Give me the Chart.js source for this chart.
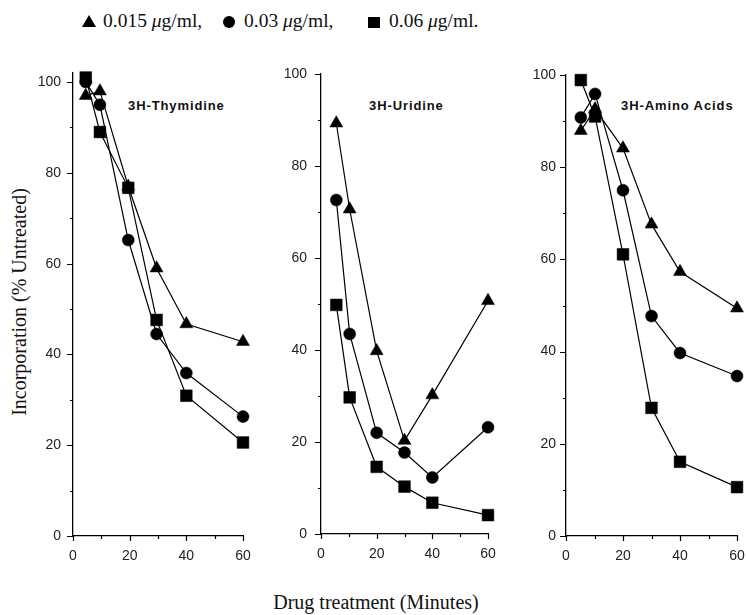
<!DOCTYPE html>
<html><head><meta charset="utf-8">
<script src="https://cdn.jsdelivr.net/npm/chart.js@4/dist/chart.umd.min.js"></script>
<style>
body{margin:0;background:#fff;width:747px;height:615px;position:relative;overflow:hidden;font-family:"Liberation Serif","Times New Roman",serif;color:#111;}
canvas{position:absolute;}
.t{position:absolute;white-space:nowrap;line-height:1;}
.lg{position:absolute;white-space:nowrap;line-height:1;font-size:19.5px;top:11px;}
.ttl{position:absolute;white-space:nowrap;font-family:"Liberation Sans",Arial,sans-serif;font-weight:bold;font-size:13px;letter-spacing:0.9px;color:#111;line-height:1;}
.tri{position:absolute;width:0;height:0;border-left:7px solid transparent;border-right:7px solid transparent;border-bottom:12px solid #000;}
.cir{position:absolute;width:12px;height:12px;border-radius:50%;background:#000;}
.sq{position:absolute;width:12px;height:11px;background:#000;}
</style></head><body>
<div id="legend">
<span class="tri" style="left:82px;top:15px;"></span>
<span class="lg" style="left:103px;">0.015 <i>μ</i>g/ml,</span>
<span class="cir" style="left:223px;top:16px;"></span>
<span class="lg" style="left:244px;">0.03 <i>μ</i>g/ml,</span>
<span class="sq" style="left:368px;top:17px;"></span>
<span class="lg" style="left:389px;">0.06 <i>μ</i>g/ml.</span>
</div>
<div class="t" style="left:19px;top:302px;font-size:20px;transform:translate(-50%,-50%) rotate(-90deg);">Incorporation (% Untreated)</div>
<div class="t" style="left:376px;top:592px;font-size:20px;transform:translateX(-50%);">Drug treatment (Minutes)</div>
<div class="ttl" style="left:128px;top:99px;">3H-Thymidine</div>
<div class="ttl" style="left:369px;top:99px;">3H-Uridine</div>
<div class="ttl" style="left:621px;top:99px;">3H-Amino Acids</div>

<canvas id="c1" width="225" height="508" style="left:30px;top:60px;"></canvas>
<canvas id="c2" width="220" height="506" style="left:280px;top:60px;"></canvas>
<canvas id="c3" width="221" height="508" style="left:526px;top:60px;"></canvas>
<script>
// Series labels
const seriesLabels = ["0.015 μg/ml", "0.03 μg/ml", "0.06 μg/ml"];
// Time points (minutes) per panel
const timesThymidine = [4.5, 9.5, 19.5, 29.5, 40, 60];
const timesUridine = [5.5, 10.3, 20, 30, 40, 60];
const timesAmino = [5.2, 10.2, 20, 30, 40, 60];
// 3H-Thymidine incorporation (% untreated)
const thymidineLow = [97, 98, 77, 59, 46.7, 42.8];
const thymidineMid = [100, 95, 65.2, 44.5, 35.9, 26.3];
const thymidineHigh = [101, 89, 76.7, 47.6, 30.9, 20.6];
// 3H-Uridine
const uridineLow = [89.3, 70.6, 39.8, 20.3, 30.2, 50.7];
const uridineMid = [72.6, 43.5, 22, 17.7, 12.3, 23.2];
const uridineHigh = [49.8, 29.7, 14.6, 10.3, 6.8, 4.1];
// 3H-Amino Acids
const aminoLow = [87.9, 92.6, 84.1, 67.6, 57.3, 49.4];
const aminoMid = [90.8, 95.9, 75, 47.7, 39.7, 34.7];
const aminoHigh = [98.9, 91, 61.1, 27.8, 16.1, 10.6];
// Tick labels
const xTickLabels = [0, 20, 40, 60];
const yTickLabels = [0, 20, 40, 60, 80, 100];
const xTickMarks = [0, 10, 20, 30, 40, 50, 60];
const yTickMarks = [0, 10, 20, 30, 40, 50, 60, 70, 80, 90, 100];

const tickPlugin = {
  id: 'tickMarks',
  afterDraw(chart) {
    const ctx = chart.ctx, a = chart.chartArea, xs = chart.scales.x, ys = chart.scales.y;
    ctx.save();
    ctx.strokeStyle = '#000';
    ctx.lineWidth = 1.2;
    ctx.beginPath();
    for (const v of xTickMarks) {
      const p = Math.round(xs.getPixelForValue(v)) + 0.5;
      const len = xTickLabels.includes(v) ? 5 : 3;
      ctx.moveTo(p, a.bottom); ctx.lineTo(p, a.bottom + len);
    }
    for (const v of yTickMarks) {
      const p = Math.round(ys.getPixelForValue(v)) + 0.5;
      const len = yTickLabels.includes(v) ? 6 : 3;
      ctx.moveTo(a.left, p); ctx.lineTo(a.left - len, p);
    }
    ctx.stroke();
    ctx.restore();
  }
};

function ds(xs, ys, style, r, label) {
  return {
    label: label,
    data: xs.map((x, i) => ({x: x, y: ys[i]})),
    pointStyle: style,
    pointRadius: r,
    pointHoverRadius: r,
    borderColor: '#000',
    backgroundColor: '#000',
    pointBackgroundColor: '#000',
    pointBorderColor: '#000',
    pointBorderWidth: 0.5,
    borderWidth: 1.2,
    tension: 0,
    clip: false
  };
}

function panel(id, xs, low, mid, high, yMax, padTop, padRight, yWidth, labelPad) {
  new Chart(document.getElementById(id), {
    type: 'line',
    data: {
      datasets: [
        ds(xs, low, 'triangle', 7.5, seriesLabels[0]),
        ds(xs, mid, 'circle', 6, seriesLabels[1]),
        ds(xs, high, 'rect', 8.3, seriesLabels[2])
      ]
    },
    options: {
      responsive: false,
      animation: false,
      devicePixelRatio: 1,
      layout: {padding: {top: padTop, right: padRight, left: 0, bottom: 0}},
      plugins: {legend: {display: false}, tooltip: {enabled: false}},
      scales: {
        x: {
          type: 'linear', min: 0, max: 60,
          afterBuildTicks: s => { s.ticks = xTickLabels.map(v => ({value: v})); },
          afterFit: s => { s.height = 32; s.paddingLeft = 0; s.paddingRight = 0; },
          ticks: {color: '#222', font: {family: 'Liberation Sans', size: 14}, padding: 12, maxRotation: 0},
          grid: {display: true, drawOnChartArea: false, drawTicks: false},
          border: {display: true, color: '#000', width: 1.3}
        },
        y: {
          type: 'linear', min: 0, max: yMax,
          afterBuildTicks: s => { s.ticks = yTickLabels.map(v => ({value: v})); },
          afterFit: s => { s.width = yWidth; s.paddingTop = 0; s.paddingBottom = 0; },
          ticks: {color: '#222', font: {family: 'Liberation Sans', size: 14}, padding: labelPad},
          grid: {display: true, drawOnChartArea: false, drawTicks: false},
          border: {display: true, color: '#000', width: 1.3}
        }
      }
    },
    plugins: [tickPlugin]
  });
}

panel('c1', timesThymidine, thymidineLow, thymidineMid, thymidineHigh, 102, 13, 12, 43, 12);
panel('c2', timesUridine, uridineLow, uridineMid, uridineHigh, 100, 14, 12, 41, 14);
panel('c3', timesAmino, aminoLow, aminoMid, aminoHigh, 100, 15, 10, 40, 10);
</script>
</body></html>
